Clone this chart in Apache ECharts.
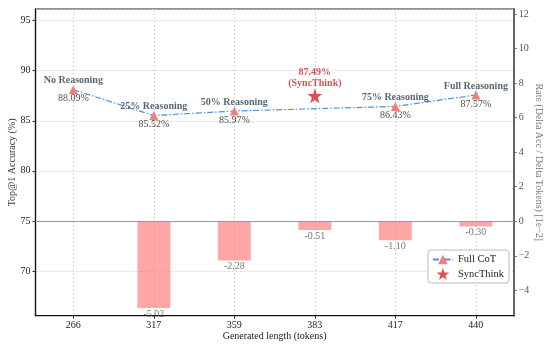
<!DOCTYPE html>
<html><head><meta charset="utf-8">
<script src="https://cdn.jsdelivr.net/npm/echarts@6/dist/echarts.min.js"></script>
<style>html,body{margin:0;padding:0;background:#fff}#c{width:544px;height:345px}</style>
</head><body><div id="c"></div>
<script>
var categories = ['266', '317', '359', '383', '417', '440'];
var lineIdx = [0, 1, 2, 4, 5];
var accuracy = [88.09, 85.52, 85.97, 86.43, 87.57];
var stageNames = ['No Reasoning', '25% Reasoning', '50% Reasoning', '75% Reasoning', 'Full Reasoning'];
var syncIdx = 3;
var syncAcc = 87.49;
var rates = [0, -5.02, -2.28, -0.51, -1.10, -0.30];

var F = 'Liberation Serif, Times New Roman, serif';
var chart = echarts.init(document.getElementById('c'), null, {renderer: 'canvas'});

var lineData = lineIdx.map(function (x, i) { return [x, accuracy[i]]; });
var barData = rates.map(function (v, i) { return [i, v]; });

var option = {
  animation: false,
  textStyle: {fontFamily: F},
  grid: {left: 35.5, right: 30.3, top: 9, bottom: 29.3, containLabel: false, outerBoundsMode: 'none'},
  xAxis: {
    type: 'value', min: -0.47, max: 5.47, splitNumber: 6,
    name: 'Generated length (tokens)', nameLocation: 'middle', nameGap: 16, nameMoveOverlap: false,
    nameTextStyle: {fontFamily: F, fontSize: 10, color: '#222'},
    axisLine: {onZero: false, lineStyle: {color: '#111', width: 1.2}},
    axisTick: {show: true, length: 3, lineStyle: {color: '#333'}},
    axisLabel: {fontFamily: F, fontSize: 10, color: '#222', margin: 5, showMinLabel: false, showMaxLabel: false,
      formatter: function (v) { return Number.isInteger(v) ? (categories[v] || '') : ''; }},
    splitLine: {show: true, lineStyle: {color: '#ccc', type: [2, 2], width: 0.8}}
  },
  yAxis: [{
    type: 'value', min: 65.55, max: 96.15, splitNumber: 6,
    name: 'Top@1 Accuracy (%)', nameLocation: 'middle', nameGap: 18, nameMoveOverlap: false,
    nameTextStyle: {fontFamily: F, fontSize: 10, color: '#333'},
    axisLine: {show: true, onZero: false, lineStyle: {color: '#111', width: 1.2}},
    axisTick: {show: true, length: 3, lineStyle: {color: '#333'}},
    axisLabel: {fontFamily: F, fontSize: 10, color: '#222', margin: 5, showMinLabel: false, showMaxLabel: false,
      formatter: function (v) { return Number.isInteger(v) ? String(v) : ''; }},
    splitLine: {show: true, lineStyle: {color: '#ccc', type: [2, 2], width: 0.8}}
  }, {
    type: 'value', min: -5.47, max: 12.29, splitNumber: 8, position: 'right',
    name: 'Rate (Delta Acc / Delta Tokens) [1e\u22122]', nameLocation: 'middle', nameGap: 20, nameRotate: -90, nameMoveOverlap: false,
    nameTextStyle: {fontFamily: F, fontSize: 10, color: '#777'},
    axisLine: {show: true, onZero: false, lineStyle: {color: '#666', width: 2}},
    axisTick: {show: true, length: 3, lineStyle: {color: '#666'}},
    axisLabel: {fontFamily: F, fontSize: 10, color: '#555', margin: 5, showMinLabel: false, showMaxLabel: false,
      formatter: function (v) { return Number.isInteger(v) ? String(v).replace('-', '\u2212') : ''; }},
    splitLine: {show: false}
  }],
  legend: {
    right: 35, top: 250, orient: 'vertical', itemGap: 3, itemWidth: 20, itemHeight: 12,
    backgroundColor: '#fff', borderColor: '#bbb', borderWidth: 1, borderRadius: 3, padding: [4, 5, 3, 4],
    textStyle: {fontFamily: F, fontSize: 10.5, color: '#222'},
    data: ['Full CoT', 'SyncThink']
  },
  series: [{
    name: 'rate', type: 'custom', yAxisIndex: 1, data: barData,
    renderItem: function (params, api) {
      var x = api.value(0), y = api.value(1);
      var p0 = api.coord([x, 0]), p1 = api.coord([x, y]);
      return {type: 'rect', shape: {x: p0[0] - 16.5, y: Math.min(p0[1], p1[1]), width: 33, height: Math.abs(p1[1] - p0[1])},
        style: {fill: 'rgba(255,120,120,0.65)'}};
    },
    z: 1
  }, {
    name: 'rateLabels', type: 'scatter', yAxisIndex: 1, data: barData, symbolSize: 0, silent: true,
    label: {show: true, position: 'bottom', distance: 1, fontFamily: F, fontSize: 10, color: '#555',
      formatter: function (p) { return p.value[1] === 0 ? '' : p.value[1].toFixed(2); }},
    markLine: {silent: true, symbol: 'none', label: {show: false},
      lineStyle: {color: '#999', type: 'solid', width: 1}, data: [{yAxis: 0}]},
    z: 2
  }, {
    name: 'Full CoT', type: 'line', yAxisIndex: 0, data: lineData,
    symbol: 'triangle', symbolSize: 9,
    lineStyle: {color: '#4a90e2', width: 1.2, type: [6, 2, 1.5, 2]},
    itemStyle: {color: '#f47c7c'},
    z: 3
  }, {
    name: 'names', type: 'scatter', yAxisIndex: 0, data: lineData, symbolSize: 0, silent: true,
    label: {show: true, position: 'top', distance: 4, fontFamily: F, fontSize: 10, fontWeight: 'bold', color: '#2c3e50',
      formatter: function (p) { return stageNames[p.dataIndex]; }},
    z: 4
  }, {
    name: 'values', type: 'scatter', yAxisIndex: 0, data: lineData, symbolSize: 0, silent: true,
    label: {show: true, position: 'bottom', distance: 4, fontFamily: F, fontSize: 10, color: '#222',
      formatter: function (p) { return p.value[1].toFixed(2) + '%'; }},
    z: 4
  }, {
    name: 'SyncThink', type: 'scatter', yAxisIndex: 0, data: [[syncIdx, syncAcc]],
    symbol: 'path://M0,-10 L2.35,-3.24 L9.51,-3.09 L3.8,1.24 L5.88,8.09 L0,4 L-5.88,8.09 L-3.8,1.24 L-9.51,-3.09 L-2.35,-3.24 Z',
    symbolSize: 15, itemStyle: {color: '#d62728'},
    label: {show: true, position: 'top', distance: -1, fontFamily: F, fontSize: 10, fontWeight: 'bold', color: '#d62728', lineHeight: 11,
      formatter: function (p) { return p.value[1].toFixed(2) + '%\n(SyncThink)'; }},
    z: 5
  }],
  graphic: [{
    type: 'rect', shape: {x: 35.5, y: 9, width: 478.2, height: 306.7}, silent: true, z: 0,
    style: {fill: 'none', stroke: '#222', lineWidth: 1.2}
  }]
};
chart.setOption(option);
</script></body></html>
